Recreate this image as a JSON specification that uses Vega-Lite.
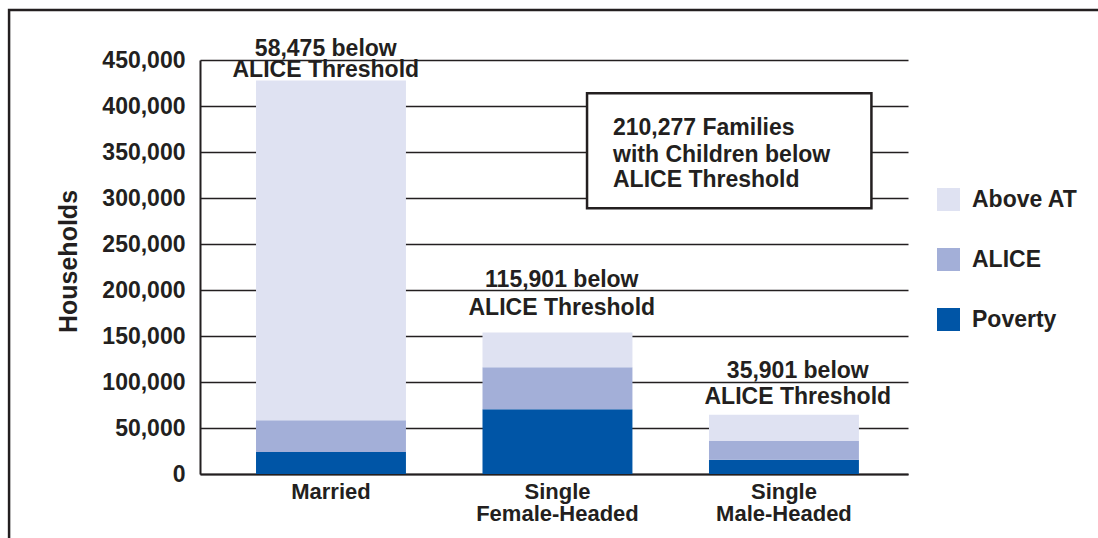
{
  "$schema": "https://vega.github.io/schema/vega-lite/v6.json",
  "width": 708,
  "height": 414,
  "autosize": {"type": "none"},
  "padding": {"left": 200, "top": 60, "right": 190, "bottom": 64},
  "background": "white",
  "config": {
    "view": {"stroke": null},
    "font": "Liberation Sans",
    "text": {"font": "Liberation Sans"},
    "axis": {
      "labelFont": "Liberation Sans",
      "titleFont": "Liberation Sans",
      "labelColor": "#231f20",
      "titleColor": "#231f20"
    },
    "legend": {
      "labelFont": "Liberation Sans",
      "labelFontSize": 23,
      "labelFontWeight": "bold",
      "labelColor": "#231f20",
      "symbolType": "square",
      "symbolSize": 529,
      "symbolStrokeWidth": 0,
      "rowPadding": 36,
      "labelOffset": 12,
      "padding": 0
    }
  },
  "datasets": {
    "bars": [
      {"cat": "Married", "level": "Poverty", "ord": 1, "v": 24000},
      {"cat": "Married", "level": "ALICE", "ord": 2, "v": 34475},
      {"cat": "Married", "level": "Above AT", "ord": 3, "v": 369200},
      {"cat": "Single Female-Headed", "level": "Poverty", "ord": 1, "v": 70500},
      {"cat": "Single Female-Headed", "level": "ALICE", "ord": 2, "v": 45401},
      {"cat": "Single Female-Headed", "level": "Above AT", "ord": 3, "v": 37900},
      {"cat": "Single Male-Headed", "level": "Poverty", "ord": 1, "v": 15400},
      {"cat": "Single Male-Headed", "level": "ALICE", "ord": 2, "v": 20501},
      {"cat": "Single Male-Headed", "level": "Above AT", "ord": 3, "v": 28400}
    ],
    "barlabels": [
      {"cat": "Married", "txt": "58,475 below", "v": 454000},
      {"cat": "Married", "txt": "ALICE Threshold", "v": 431200},
      {"cat": "Single Female-Headed", "txt": "115,901 below", "v": 203600},
      {"cat": "Single Female-Headed", "txt": "ALICE Threshold", "v": 172800},
      {"cat": "Single Male-Headed", "txt": "35,901 below", "v": 104000},
      {"cat": "Single Male-Headed", "txt": "ALICE Threshold", "v": 76100}
    ],
    "box": [
      {"px": 1.64, "px2": 2.845, "v": 413800, "v2": 288800}
    ],
    "boxtext": [
      {"px": 1.75, "txt": "210,277 Families", "v": 368500},
      {"px": 1.75, "txt": "with Children below", "v": 339500},
      {"px": 1.75, "txt": "ALICE Threshold", "v": 312300}
    ],
    "frame": [
      {"px": -0.809, "px2": 3.95, "v": 504300, "v2": -90000}
    ]
  },
  "resolve": {"scale": {"x": "independent"}},
  "layer": [
    {
      "data": {"name": "bars"},
      "mark": {"type": "bar"},
      "encoding": {
        "x": {
          "field": "cat",
          "type": "nominal",
          "sort": null,
          "scale": {"paddingInner": 0.338, "paddingOuter": 0.232, "align": 0.533},
          "axis": {
            "title": null,
            "labelAngle": 0,
            "labelFontSize": 22,
            "labelFontWeight": "bold",
            "labelPadding": 7,
            "labelLineHeight": 22,
            "labelBaseline": "top",
            "ticks": false,
            "tickSize": 0,
            "domainColor": "#231f20",
            "domainWidth": 2,
            "labelExpr": "datum.value == 'Married' ? 'Married' : ['Single', slice(datum.value, 7)]"
          }
        },
        "y": {
          "field": "v",
          "type": "quantitative",
          "stack": "zero",
          "title": "Households",
          "scale": {"domain": [0, 450000], "nice": false, "zero": true},
          "axis": {
            "values": [0, 50000, 100000, 150000, 200000, 250000, 300000, 350000, 400000, 450000],
            "format": ",d",
            "labelFontSize": 23,
            "labelFontWeight": "bold",
            "labelPadding": 15,
            "ticks": false,
            "tickSize": 0,
            "grid": true,
            "gridColor": "#231f20",
            "gridWidth": 1.5,
            "gridOpacity": 1,
            "domainColor": "#231f20",
            "domainWidth": 2,
            "titleFontSize": 25,
            "titleFontWeight": "bold",
            "titleBaseline": "alphabetic",
            "titleX": -124,
            "titleY": 201,
            "titleAngle": -90
          }
        },
        "color": {
          "field": "level",
          "type": "nominal",
          "scale": {
            "domain": ["Above AT", "ALICE", "Poverty"],
            "range": ["#dfe2f2", "#a3afd8", "#0055a6"]
          },
          "legend": {
            "title": null,
            "orient": "none",
            "legendX": 737,
            "legendY": 128
          }
        },
        "order": {"field": "ord", "type": "quantitative"}
      }
    },
    {
      "data": {"name": "barlabels"},
      "mark": {
        "type": "text",
        "align": "center",
        "baseline": "alphabetic",
        "fontSize": 23,
        "fontWeight": "bold",
        "color": "#231f20",
        "font": "Liberation Sans"
      },
      "encoding": {
        "x": {
          "field": "cat",
          "type": "nominal",
          "sort": null,
          "scale": {"paddingInner": 0.338, "paddingOuter": 0.232, "align": 0.533},
          "axis": null
        },
        "y": {
          "field": "v",
          "type": "quantitative",
          "scale": {"domain": [0, 450000], "nice": false, "zero": true}
        },
        "text": {"field": "txt"}
      }
    },
    {
      "data": {"name": "box"},
      "mark": {"type": "rect", "fill": "white", "stroke": "#231f20", "strokeWidth": 2.5},
      "encoding": {
        "x": {"field": "px", "type": "quantitative", "scale": {"domain": [0, 3], "nice": false, "zero": false}, "axis": null},
        "x2": {"field": "px2"},
        "y": {"field": "v", "type": "quantitative", "scale": {"domain": [0, 450000], "nice": false, "zero": true}},
        "y2": {"field": "v2"}
      }
    },
    {
      "data": {"name": "boxtext"},
      "mark": {
        "type": "text",
        "align": "left",
        "baseline": "alphabetic",
        "fontSize": 23,
        "fontWeight": "bold",
        "color": "#231f20",
        "font": "Liberation Sans"
      },
      "encoding": {
        "x": {"field": "px", "type": "quantitative", "scale": {"domain": [0, 3], "nice": false, "zero": false}, "axis": null},
        "y": {"field": "v", "type": "quantitative", "scale": {"domain": [0, 450000], "nice": false, "zero": true}},
        "text": {"field": "txt"}
      }
    },
    {
      "data": {"name": "frame"},
      "mark": {"type": "rect", "fill": null, "fillOpacity": 0, "stroke": "#231f20", "strokeWidth": 2.5, "clip": false},
      "encoding": {
        "x": {"field": "px", "type": "quantitative", "scale": {"domain": [0, 3], "nice": false, "zero": false}, "axis": null},
        "x2": {"field": "px2"},
        "y": {"field": "v", "type": "quantitative", "scale": {"domain": [0, 450000], "nice": false, "zero": true}},
        "y2": {"field": "v2"}
      }
    }
  ]
}
